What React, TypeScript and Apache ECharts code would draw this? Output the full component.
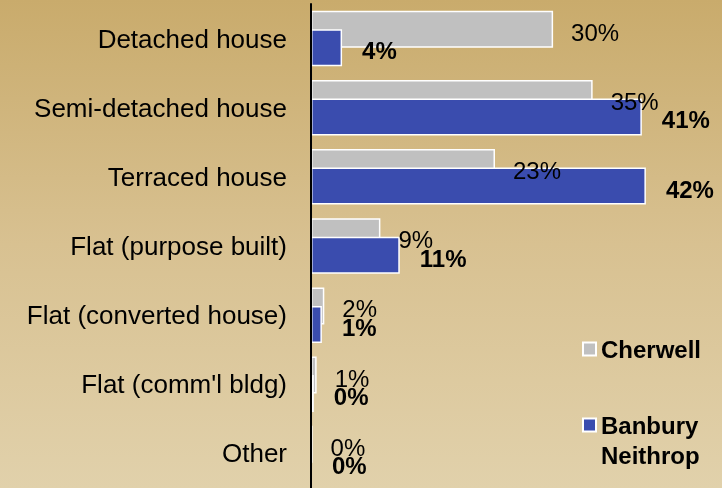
import React, { useEffect, useRef } from "react";
import * as echarts from "echarts";

const categories = [
  "Detached house",
  "Semi-detached house",
  "Terraced house",
  "Flat (purpose built)",
  "Flat (converted house)",
  "Flat (comm'l bldg)",
  "Other",
];
const cherwell = [30.0, 34.9, 22.8, 8.6, 1.65, 0.7, 0.2];
const banbury = [3.85, 41.0, 41.5, 11.0, 1.35, 0.35, 0.05];
const seriesNames = ["Cherwell", "Banbury Neithrop"];

export default function App() {
  const ref = useRef<HTMLDivElement>(null);
  useEffect(() => {
    if (!ref.current) return;
    const chart = echarts.init(ref.current, null, { renderer: "svg" });
    const fmt = (p: any) => Math.round(p.value) + "%";
    const font = "Liberation Sans, Arial, sans-serif";
    chart.setOption({
      animation: false,
      graphic: [
        {
          type: "rect",
          z: -10,
          silent: true,
          shape: { x: 0, y: 0, width: 722, height: 488 },
          style: {
            fill: {
              type: "linear",
              x: 0,
              y: 0,
              x2: 0,
              y2: 1,
              colorStops: [
                { offset: 0, color: "#C9AB6C" },
                { offset: 0.5, color: "#D8C191" },
                { offset: 1, color: "#E1D1AB" },
              ],
            },
          },
        },
      ],
      grid: { left: 311, right: 7.5, top: 4, bottom: 0, containLabel: false },
      xAxis: {
        type: "value",
        min: 0,
        max: 50,
        show: false,
      },
      yAxis: {
        type: "category",
        inverse: true,
        z: 10,
        data: categories,
        axisLine: { show: true, lineStyle: { color: "#000", width: 2 } },
        axisTick: { show: false },
        axisLabel: {
          color: "#000",
          fontSize: 26,
          fontFamily: font,
          margin: 24,
        },
      },
      legend: [
        {
          data: [seriesNames[0]],
          orient: "vertical",
          left: 582,
          top: 337,
          padding: 0,
          itemWidth: 13,
          itemHeight: 13,
          itemGap: 0,
          icon: "rect",
          textStyle: {
            color: "#000",
            fontSize: 24,
            fontWeight: "bold",
            fontFamily: font,
            lineHeight: 24,
          },
        },
        {
          data: [seriesNames[1]],
          orient: "vertical",
          left: 582,
          top: 413,
          padding: 0,
          itemWidth: 13,
          itemHeight: 13,
          icon: "rect",
          formatter: () => "{a|Banbury}\n{a|Neithrop}",
          textStyle: {
            color: "#000",
            fontSize: 24,
            fontWeight: "bold",
            fontFamily: font,
            padding: [30, 0, 0, 0],
            rich: {
              a: {
                color: "#000",
                fontSize: 24,
                fontWeight: "bold",
                fontFamily: font,
                lineHeight: 30,
              },
            },
          },
        },
      ],
      series: [
        {
          name: seriesNames[0],
          type: "bar",
          data: cherwell,
          barWidth: 37,
          barGap: "-50%",
          itemStyle: { color: "#C0C0C0", borderColor: "#FFFFFF", borderWidth: 1.5 },
          label: {
            show: true,
            position: "right",
            distance: 18,
            offset: [0, 3],
            formatter: fmt,
            color: "#000",
            fontSize: 24,
            fontFamily: font,
          },
        },
        {
          name: seriesNames[1],
          type: "bar",
          data: banbury,
          barWidth: 37,
          itemStyle: { color: "#3A4CAE", borderColor: "#FFFFFF", borderWidth: 1.5 },
          label: {
            show: true,
            position: "right",
            distance: 20,
            offset: [0, 3],
            formatter: fmt,
            color: "#000",
            fontSize: 24,
            fontWeight: "bold",
            fontFamily: font,
          },
        },
      ],
    });
    return () => chart.dispose();
  }, []);
  return (
    <div
      ref={ref}
      style={{ position: "fixed", left: 0, top: 0, width: 722, height: 488 }}
    />
  );
}
